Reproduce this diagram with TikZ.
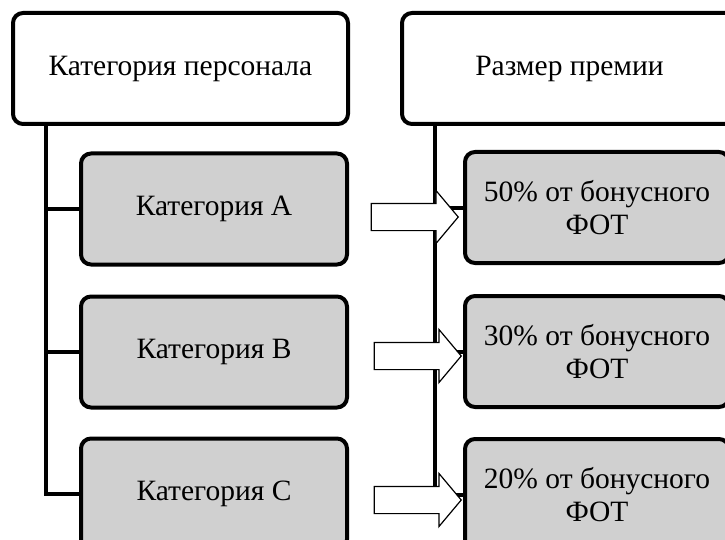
\documentclass[tikz,border=0pt]{standalone}
\usepackage{fontspec}
\setmainfont{Liberation Serif}
\usetikzlibrary{positioning,shapes.arrows}
\definecolor{boxgray}{RGB}{208,208,208}

\begin{document}
\begin{tikzpicture}[x=1pt, y=-1pt,
    every node/.style={font=\rmfamily\fontsize{29.5}{33}\selectfont},
    headbox/.style={draw, line width=4pt, rounded corners=10pt, fill=white,
      minimum width=335pt, minimum height=111pt, align=center},
    itembox/.style={draw, line width=4pt, rounded corners=10pt, fill=boxgray,
      minimum width=266pt, minimum height=111pt, align=center},
    spine/.style={line width=4pt},
    hollowarrow/.style={single arrow, draw, fill=white, line width=1.2pt,
      single arrow head extend=13pt, single arrow tip angle=100,
      minimum height=87pt, inner xsep=0pt, inner ysep=13pt,
      text height=0pt, text depth=0pt, anchor=tip}]
  \useasboundingbox (0,0) rectangle (725,540);
  \clip (0,0) rectangle (725,540);

  % Headers
  \node[headbox] (persHead) at (180.5,68.5) {Категория персонала};
  \node[headbox, right=50pt of persHead] (bonusHead) {Размер премии};

  % Categories
  \node[itembox] (catA) at (214,209) {Категория А};
  \node[itembox, below=28pt of catA] (catB) {Категория В};
  \node[itembox, below=27pt of catB] (catC) {Категория С};

  % Bonus shares
  \node[itembox, minimum width=264pt] (shareA) at (597,207.5) {50\% от бонусного\\ФОТ};
  \node[itembox, minimum width=264pt, below=29pt of shareA] (shareB) {30\% от бонусного\\ФОТ};
  \node[itembox, minimum width=264pt, below=28pt of shareB] (shareC) {20\% от бонусного\\ФОТ};

  % Spines
  \coordinate (leftSpine) at ([xshift=35pt]persHead.south west);
  \coordinate (rightSpine) at ([xshift=35pt]bonusHead.south west);
  \foreach \n in {catA,catB,catC}
    \draw[spine] (leftSpine) |- (\n.west);
  \foreach \n in {shareA,shareB,shareC}
    \draw[spine] (rightSpine) |- (\n.west);

  % Arrows
  \node[hollowarrow] (arrA) at (459,217) {};
  \node[hollowarrow] (arrB) at (462,356) {};
  \node[hollowarrow] (arrC) at (462,500) {};
\end{tikzpicture}
\end{document}
